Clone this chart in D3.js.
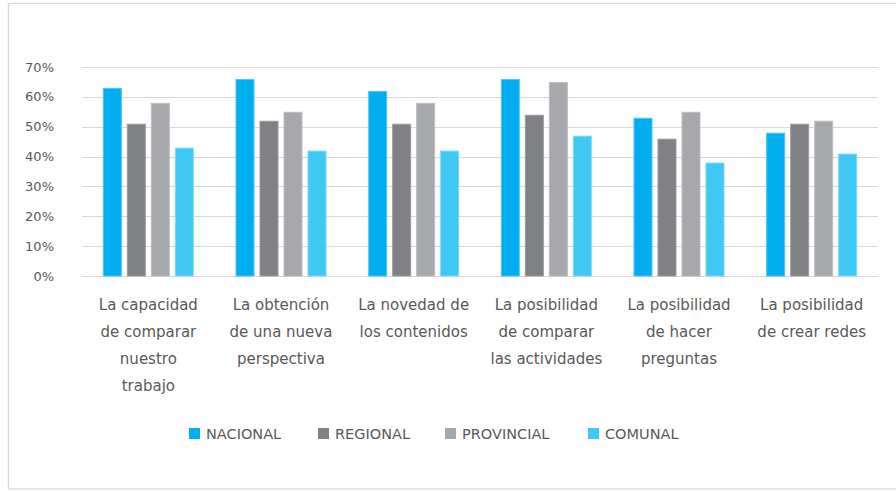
<!DOCTYPE html>
<html>
<head>
<meta charset="utf-8">
<script src="https://cdn.jsdelivr.net/npm/d3@7"></script>
<style>
  html, body { margin: 0; padding: 0; background: #fff; }
  svg { display: block; }
  text { font-family: "Century Gothic", "DejaVu Sans", sans-serif; fill: #595959; }
</style>
</head>
<body>
<script>
const categories = [
  ["La capacidad", "de comparar", "nuestro", "trabajo"],
  ["La obtención", "de una nueva", "perspectiva"],
  ["La novedad de", "los contenidos"],
  ["La posibilidad", "de comparar", "las actividades"],
  ["La posibilidad", "de hacer", "preguntas"],
  ["La posibilidad", "de crear redes"]
];
const seriesNames = ["NACIONAL", "REGIONAL", "PROVINCIAL", "COMUNAL"];
const nacional   = [63, 66, 62, 66, 53, 48];
const regional   = [51, 52, 51, 54, 46, 51];
const provincial = [58, 55, 58, 65, 55, 52];
const comunal    = [43, 42, 42, 47, 38, 41];
const yTicks = [0, 10, 20, 30, 40, 50, 60, 70];

const colors = ["#00AEEF", "#808184", "#A7A8AC", "#40C8F4"];
const strokes = ["#4cc6f4", "#9a9b9e", "#bcbdc0", "#7dd8f7"];
const seriesValues = [nacional, regional, provincial, comunal];

const W = 896, H = 492;
const svg = d3.select("body").append("svg").attr("width", W).attr("height", H);

// outer border
svg.append("rect").attr("x", 8.5).attr("y", 3.5).attr("width", 900).attr("height", 485.5)
  .attr("fill", "#fff").attr("stroke", "#d9d9d9").attr("stroke-width", 1.3);

const pLeft = 82, pRight = 878, pTop = 67, pBottom = 276;

const y = d3.scaleLinear().domain([0, 70]).range([pBottom, pTop]);
const x0 = d3.scaleBand().domain(d3.range(categories.length)).range([pLeft, pRight])
  .paddingInner(0.314).paddingOuter(0.157);
const x1 = d3.scaleBand().domain(d3.range(seriesNames.length)).range([0, x0.bandwidth()])
  .paddingInner(0.208).paddingOuter(0);

// gridlines
svg.append("g").selectAll("line").data(yTicks).join("line")
  .attr("x1", pLeft).attr("x2", pRight)
  .attr("y1", d => Math.round(y(d)) + 0.5).attr("y2", d => Math.round(y(d)) + 0.5)
  .attr("stroke", "#d9d9d9").attr("stroke-width", 1.2);

// y labels
svg.append("g").selectAll("text").data(yTicks).join("text")
  .attr("x", 54).attr("y", d => y(d)).attr("dy", "0.35em")
  .attr("text-anchor", "end").attr("font-size", 13)
  .text(d => d + "%");

// bars
const groups = svg.append("g").selectAll("g").data(categories).join("g")
  .attr("transform", (d, i) => `translate(${x0(i)},0)`);
groups.selectAll("rect").data((d, i) => seriesValues.map((s, k) => ({k, v: s[i]}))).join("rect")
  .attr("x", d => x1(d.k) + 0.5)
  .attr("y", d => y(d.v) + 0.5)
  .attr("width", x1.bandwidth() - 1)
  .attr("height", d => y(0) - y(d.v) - 0.5)
  .attr("fill", d => colors[d.k])
  .attr("stroke", d => strokes[d.k])
  .attr("stroke-width", 1);

// category labels
const lab = svg.append("g").selectAll("text").data(categories).join("text")
  .attr("text-anchor", "middle").attr("font-size", 15)
  .attr("transform", (d, i) => `translate(${x0(i) + x0.bandwidth() / 2},310)`);
lab.selectAll("tspan").data(d => d).join("tspan")
  .attr("x", 0).attr("y", (d, j) => j * 27).text(d => d);

// legend
const legX = [189, 318, 445, 588];
const leg = svg.append("g").selectAll("g").data(seriesNames).join("g")
  .attr("transform", (d, i) => `translate(${legX[i]},428)`);
leg.append("rect").attr("width", 11).attr("height", 11).attr("fill", (d, i) => colors[i]);
leg.append("text").attr("x", 17).attr("y", 6).attr("dy", "0.35em")
  .attr("font-size", 14.5).text(d => d);
</script>
</body>
</html>
